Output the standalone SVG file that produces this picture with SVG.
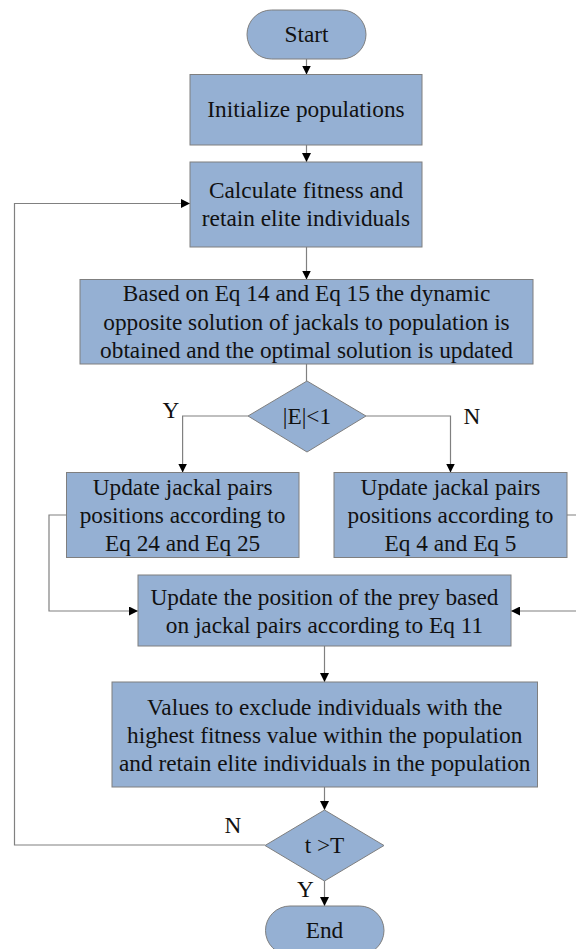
<svg xmlns="http://www.w3.org/2000/svg" width="576" height="949" viewBox="0 0 576 949">
<defs>
<style>
.n{fill:#95b0d3;stroke:#7f7f7f;stroke-width:1}
text{font-family:'Liberation Serif',serif;font-size:23.3px;fill:#111;text-anchor:middle}
.c{fill:none;stroke:#808080;stroke-width:1.2}
</style>
<marker id="a" viewBox="0 0 10 10" refX="10" refY="5" markerWidth="9" markerHeight="9" markerUnits="userSpaceOnUse" orient="auto">
<path d="M0,0 L10,5 L0,10 Z" fill="#000"/>
</marker>
</defs>
<rect width="576" height="949" fill="#fff"/>
<g id="connectors">
<path class="c" d="M306.5,59 V74.5" marker-end="url(#a)"/>
<path class="c" d="M306.5,145 V162" marker-end="url(#a)"/>
<path class="c" d="M306.5,247 V279.5" marker-end="url(#a)"/>
<path class="c" d="M306.5,364 V381"/>
<path class="c" d="M248,416 H182.6 V472.5" marker-end="url(#a)"/>
<path class="c" d="M366,416 H450.5 V472.5" marker-end="url(#a)"/>
<path class="c" d="M66.5,515 H49 V611 H138" marker-end="url(#a)"/>
<path class="c" d="M567,515 H580 V611 H511" marker-end="url(#a)"/>
<path class="c" d="M324.5,646 V682" marker-end="url(#a)"/>
<path class="c" d="M324.5,787 V810" marker-end="url(#a)"/>
<path class="c" d="M265,845 H14.5 V203.5 H190" marker-end="url(#a)"/>
<path class="c" d="M324.5,881 V906" marker-end="url(#a)"/>
<text font-family="Liberation Serif, serif" x="171" y="418">Y</text>
<text font-family="Liberation Serif, serif" x="472" y="424">N</text>
<text font-family="Liberation Serif, serif" x="233" y="833">N</text>
<text font-family="Liberation Serif, serif" x="305.5" y="897">Y</text>
</g>
<g id="start">
<rect class="n" x="247" y="10" width="119" height="49" rx="24.5"/>
<text x="306.5" y="42">Start</text>
</g>
<g id="init">
<rect class="n" x="190" y="74.5" width="232" height="70.5"/>
<text x="306" y="117">Initialize populations</text>
</g>
<g id="calc">
<rect class="n" x="190" y="162" width="232" height="85"/>
<text x="306" y="198">Calculate fitness and</text>
<text x="306" y="226">retain elite individuals</text>
</g>
<g id="based">
<rect class="n" x="80" y="279.5" width="453" height="84.5"/>
<text x="306.5" y="301">Based on Eq 14 and Eq 15 the dynamic</text>
<text x="306.5" y="330">opposite solution of jackals to population is</text>
<text x="306.5" y="358">obtained and the optimal solution is updated</text>
</g>
<g id="decision1">
<polygon class="n" points="307,381 366,416 307,452 248,416"/>
<text x="307" y="424">|E|&lt;1</text>
</g>
<g id="left">
<rect class="n" x="66.5" y="472.5" width="232.5" height="85"/>
<text x="182.6" y="495">Update jackal pairs</text>
<text x="182.6" y="523">positions according to</text>
<text x="182.6" y="551">Eq 24 and Eq 25</text>
</g>
<g id="right">
<rect class="n" x="334" y="472.5" width="233" height="85"/>
<text x="450.5" y="495">Update jackal pairs</text>
<text x="450.5" y="523">positions according to</text>
<text x="450.5" y="551">Eq 4 and Eq 5</text>
</g>
<g id="prey">
<rect class="n" x="138" y="575" width="373" height="71"/>
<text x="324.5" y="605">Update the position of the prey based</text>
<text x="324.5" y="633">on jackal pairs according to Eq 11</text>
</g>
<g id="values">
<rect class="n" x="112" y="682" width="425.5" height="105"/>
<text x="324.7" y="715">Values to exclude individuals with the</text>
<text x="324.7" y="743">highest fitness value within the population</text>
<text x="324.7" y="771">and retain elite individuals in the population</text>
</g>
<g id="decision2">
<polygon class="n" points="324.5,810 384,845.5 324.5,881 265,845.5"/>
<text x="324.5" y="853">t &gt;T</text>
</g>
<g id="end">
<rect class="n" x="265.5" y="906" width="118.5" height="49" rx="24.5"/>
<text x="324.5" y="938">End</text>
</g>
</svg>
